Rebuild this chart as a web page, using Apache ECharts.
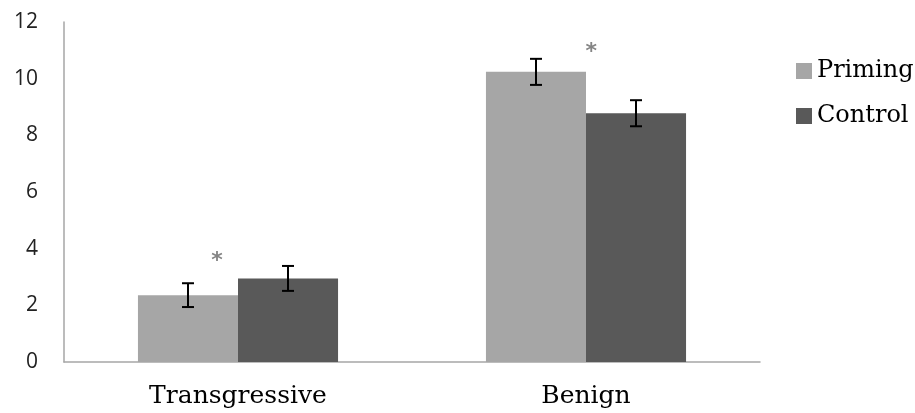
<!DOCTYPE html>
<html><head><meta charset="utf-8">
<script src="https://cdn.jsdelivr.net/npm/echarts@6/dist/echarts.min.js"></script>
<style>html,body{margin:0;padding:0;background:#fff}#c{width:915px;height:413px}</style>
</head><body><div id="c"></div>
<script>
const categories = ['Transgressive', 'Benign'];
const seriesNames = ['Priming', 'Control'];
const primingValues = [2.36, 10.24];
const controlValues = [2.95, 8.78];
const primingErrors = [0.42, 0.46];
const controlErrors = [0.44, 0.46];
const yTicks = [0, 2, 4, 6, 8, 10, 12];
// asterisks: [position along category axis (0..2), value]
const asteriskPoints = [[0.44, 3.69], [1.515, 11.07]];

const colors = ['#a6a6a6', '#595959'];
const gapFrac = 0.425;

function errorSeries(vals, errs, idx) {
  return {
    type: 'custom', xAxisIndex: 0, z: 5,
    data: vals.map((v, i) => [i, v - errs[i], v + errs[i]]),
    renderItem: function (params, api) {
      const cat = api.value(0);
      const lo = api.coord([cat, api.value(1)]);
      const hi = api.coord([cat, api.value(2)]);
      const band = api.size([1, 0])[0];
      const bw = band * (1 - gapFrac) / 2;
      const x = lo[0] + (idx === 0 ? -bw / 2 : bw / 2);
      const cap = 6;
      const st = { stroke: '#000', lineWidth: 2 };
      return { type: 'group', children: [
        { type: 'line', shape: { x1: x, y1: lo[1], x2: x, y2: hi[1] }, style: st },
        { type: 'line', shape: { x1: x - cap, y1: lo[1], x2: x + cap, y2: lo[1] }, style: st },
        { type: 'line', shape: { x1: x - cap, y1: hi[1], x2: x + cap, y2: hi[1] }, style: st }
      ]};
    }
  };
}

const chart = echarts.init(document.getElementById('c'));
chart.setOption({
  animation: false,
  color: colors,
  grid: { left: 64, right: 155, top: 22, bottom: 51 },
  legend: {
    orient: 'vertical', left: 791, top: 54, itemWidth: 16, itemHeight: 16, itemGap: 21,
    icon: 'rect',
    textStyle: { fontFamily: 'DejaVu Serif', fontSize: 24, color: '#000' },
    data: seriesNames
  },
  xAxis: [{
    type: 'category', data: categories,
    axisLine: { lineStyle: { color: '#a6a6a6', width: 1.5 } },
    axisTick: { show: false },
    axisLabel: { fontFamily: 'DejaVu Serif', fontSize: 25, color: '#000', margin: 22 }
  }, {
    type: 'value', min: 0, max: 2, show: false
  }],
  yAxis: {
    type: 'value', min: 0, max: 12, interval: 2,
    splitLine: { show: false },
    axisLine: { show: true, lineStyle: { color: '#a6a6a6', width: 1.5 } },
    axisTick: { show: false },
    axisLabel: { fontFamily: 'Open Sans', fontSize: 21, color: '#222', margin: 26,
      formatter: v => yTicks.includes(v) ? String(v) : '' }
  },
  series: [
    { name: seriesNames[0], type: 'bar', data: primingValues, barGap: '0%', barCategoryGap: (gapFrac * 100) + '%' },
    { name: seriesNames[1], type: 'bar', data: controlValues, barGap: '0%', barCategoryGap: (gapFrac * 100) + '%' },
    errorSeries(primingValues, primingErrors, 0),
    errorSeries(controlValues, controlErrors, 1),
    {
      type: 'scatter', xAxisIndex: 1, symbolSize: 0, z: 6,
      data: asteriskPoints,
      label: { show: true, position: 'inside', formatter: '*', fontFamily: 'DejaVu Sans', fontWeight: 'bold', fontSize: 22, color: '#666', offset: [0, 4] }
    }
  ]
});
</script></body></html>
